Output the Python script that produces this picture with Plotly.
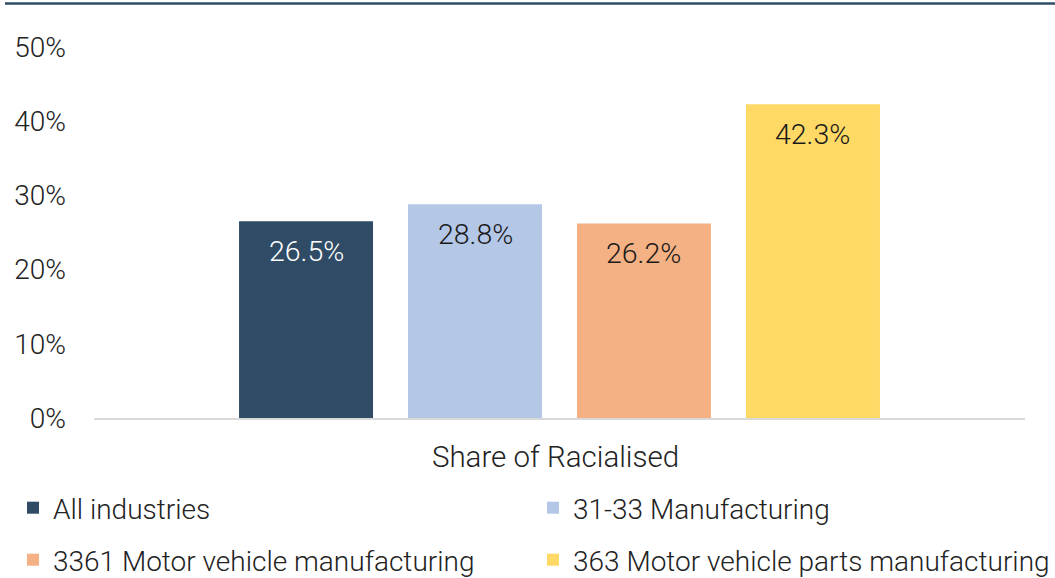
import plotly.graph_objects as go

category = ["Share of Racialised"]
series_names = ["All industries", "31-33 Manufacturing",
                "3361 Motor vehicle manufacturing", "363 Motor vehicle parts manufacturing"]
values = [26.5, 28.8, 26.2, 42.3]
colors = ["#2f4b65", "#b4c7e7", "#f4b183", "#ffd966"]
label_colors = ["#ffffff", "#1a1a1a", "#1a1a1a", "#1a1a1a"]
y_ticks = [0, 10, 20, 30, 40, 50]
y_ticklabels = ["0%", "10%", "20%", "30%", "40%", "50%"]

W, H = 1055, 578
ML, MR, MT, MB = 94, 30, 47, 160
FONT = dict(family="Roboto", size=28, color="#222222", weight=300)

bargap = 0.274
bargroupgap = 0.207
plot_w = W - ML - MR

fig = go.Figure()
legend_ids = ["legend", "legend2", "legend3", "legend4"]
legend_pos = [(13, 508), (533, 508), (13, 560), (533, 560)]
for i, (name, v, c) in enumerate(zip(series_names, values, colors)):
    fig.add_trace(go.Bar(x=category, y=[v], name=name, marker_color=c,
                         marker_line_width=0, legend=legend_ids[i],
                         hoverinfo="skip"))

slot = plot_w * (1 - bargap) / len(values)
for i, v in enumerate(values):
    fig.add_annotation(x=category[0], y=v, xref="x", yref="y",
                       text=f"{v:.1f}%", showarrow=False,
                       xshift=(i - (len(values) - 1) / 2) * slot,
                       yshift=-30, yanchor="middle",
                       font=dict(family="Roboto", size=28.5, color=label_colors[i], weight=300))

fig.add_shape(type="line", xref="paper", yref="paper",
              x0=(5 - ML) / plot_w, x1=(W - ML) / plot_w,
              y0=(H - MB - 3.5) / (H - MT - MB), y1=(H - MB - 3.5) / (H - MT - MB),
              line=dict(color="#2f4b65", width=2.5))

legend_layout = {}
for lid, (lx, ly) in zip(legend_ids, legend_pos):
    legend_layout[lid] = dict(orientation="h", xref="container", yref="container",
                              x=lx / W, y=1 - ly / H, xanchor="left", yanchor="middle",
                              font=FONT, itemclick=False, bgcolor="rgba(0,0,0,0)")

fig.update_layout(
    width=W, height=H,
    margin=dict(l=ML, r=MR, t=MT, b=MB, pad=0, autoexpand=False),
    paper_bgcolor="white", plot_bgcolor="white",
    font=FONT,
    barmode="group", bargap=bargap, bargroupgap=bargroupgap,
    showlegend=True,
    xaxis=dict(showline=True, linecolor="#d9d9d9", linewidth=2, automargin=False,
               showgrid=False, ticks="", ticklabelstandoff=12, ticklabelshift=-4,
               tickfont=dict(family="Roboto", size=29.5, color="#222222", weight=300)),
    yaxis=dict(range=[0, 50], tickvals=y_ticks, ticktext=y_ticklabels, automargin=False,
               showgrid=False, zeroline=False, showline=False, ticks="",
               tickfont=FONT, ticklabelstandoff=27),
    **legend_layout,
)

fig.write_html("out.html", config={"displayModeBar": False},
               post_script="document.body.style.margin='0px';document.body.style.overflow='hidden';")
